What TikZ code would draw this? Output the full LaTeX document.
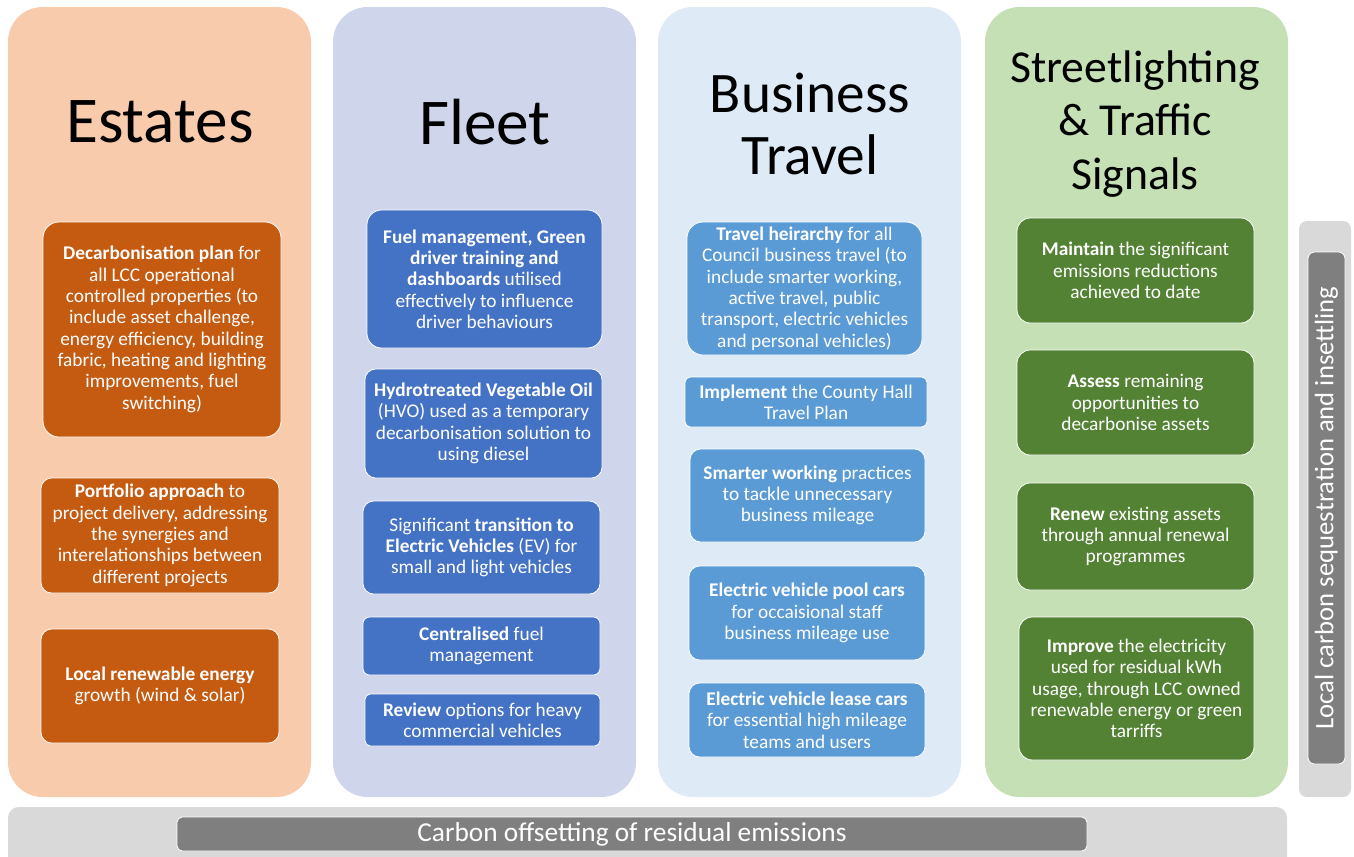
\documentclass[tikz,border=0pt]{standalone}
\usepackage{fontspec}
\setmainfont{Carlito}
\usetikzlibrary{fit}
\definecolor{estatebg}{HTML}{F8CBAD}
\definecolor{estatebox}{HTML}{C55A11}
\definecolor{fleetbg}{HTML}{CFD5EA}
\definecolor{fleetbox}{HTML}{4472C4}
\definecolor{travelbg}{HTML}{DEEBF7}
\definecolor{travelbox}{HTML}{5B9BD5}
\definecolor{streetbg}{HTML}{C5E0B4}
\definecolor{streetbox}{HTML}{548235}
\definecolor{barout}{HTML}{D9D9D9}
\definecolor{barin}{HTML}{7F7F7F}
\tikzset{
  col/.style={fill=#1, rounded corners=26pt, inner sep=0pt},
  item/.style={fill=#1, draw=white, line width=0.6pt, rounded corners=8pt, inner sep=0pt},
  itemtext/.style={text=white, align=center, inner sep=0pt, font=\fontsize{14.5}{16}\selectfont},
  hdr/.style={align=center, inner sep=0pt},
}
\begin{document}
\begin{tikzpicture}[x=0.75pt,y=-0.75pt]
  \useasboundingbox (0,0) rectangle (1354,857);
  \foreach \n/\a/\c in {estates/8/estatebg,fleet/333/fleetbg,travel/658/travelbg,street/985/streetbg}
    \node[col=\c, fit={(\a,7) (\a+303,797)}] (\n) {};

  \node[hdr, font=\fontsize{49}{58}\selectfont] (estatesT) at (160,122) {Estates};
  \node[hdr, font=\fontsize{49}{58}\selectfont] (fleetT) at (485,122) {Fleet};
  \node[hdr, font=\fontsize{43}{47}\selectfont] (travelT) at (810,124) {Business\\Travel};
  \node[hdr, font=\fontsize{34.3}{40}\selectfont] (streetT) at (1135,124) {Streetlighting\\\& Traffic\\Signals};

  \node[item=estatebox, rounded corners=12pt, fit={(43,222) (281,437)}] (e1) {};
  \node[item=estatebox, fit={(41,478) (279,593)}] (e2) {};
  \node[item=estatebox, fit={(41,629) (279,743)}] (e3) {};
  \node[itemtext] (e1t) at (e1.center) {\textbf{Decarbonisation plan} for\\all LCC operational\\controlled properties (to\\include asset challenge,\\energy efficiency, building\\fabric, heating and lighting\\improvements, fuel\\switching)};
  \node[itemtext] (e2t) at (e2.center) {\textbf{Portfolio approach} to\\project delivery, addressing\\the synergies and\\interelationships between\\different projects};
  \node[itemtext] (e3t) at (e3.center) {\textbf{Local renewable energy}\\growth (wind \& solar)};

  \node[item=fleetbox, rounded corners=11pt, fit={(367,210) (602,348)}] (f1) {};
  \node[item=fleetbox, fit={(365,369) (602,478)}] (f2) {};
  \node[item=fleetbox, fit={(363,501) (600,594)}] (f3) {};
  \node[item=fleetbox, rounded corners=5pt, fit={(363,617) (600,675)}] (f4) {};
  \node[item=fleetbox, rounded corners=4pt, fit={(365,694) (600,746)}] (f5) {};
  \node[itemtext] (f1t) at (f1.center) {\textbf{Fuel management, Green}\\\textbf{driver training and}\\\textbf{dashboards} utilised\\effectively to influence\\driver behaviours};
  \node[itemtext] (f2t) at (f2.center) {\textbf{Hydrotreated Vegetable Oil}\\(HVO) used as a temporary\\decarbonisation solution to\\using diesel};
  \node[itemtext] (f3t) at (f3.center) {Significant \textbf{transition to}\\\textbf{Electric Vehicles} (EV) for\\small and light vehicles};
  \node[itemtext] (f4t) at (f4.center) {\textbf{Centralised} fuel\\management};
  \node[itemtext] (f5t) at (f5.center) {\textbf{Review} options for heavy\\commercial vehicles};

  \node[item=travelbox, rounded corners=12pt, fit={(687,222) (922,355)}] (t1) {};
  \node[item=travelbox, rounded corners=4pt, fit={(685,377) (927,427)}] (t2) {};
  \node[item=travelbox, fit={(690,449) (925,542)}] (t3) {};
  \node[item=travelbox, fit={(689,566) (925,660)}] (t4) {};
  \node[item=travelbox, fit={(689,683) (925,757)}] (t5) {};
  \node[itemtext] (t1t) at (t1.center) {\textbf{Travel heirarchy} for all\\Council business travel (to\\include smarter working,\\active travel, public\\transport, electric vehicles\\and personal vehicles)};
  \node[itemtext] (t2t) at (t2.center) {\textbf{Implement} the County Hall\\Travel Plan};
  \node[itemtext] (t3t) at (t3.center) {\textbf{Smarter working} practices\\to tackle unnecessary\\business mileage};
  \node[itemtext] (t4t) at (t4.center) {\textbf{Electric vehicle pool cars}\\for occaisional staff\\business mileage use};
  \node[itemtext] (t5t) at (t5.center) {\textbf{Electric vehicle lease cars}\\for essential high mileage\\teams and users};

  \node[item=streetbox, rounded corners=10pt, fit={(1017,218) (1254,323)}] (s1) {};
  \node[item=streetbox, rounded corners=10pt, fit={(1017,350) (1254,455)}] (s2) {};
  \node[item=streetbox, rounded corners=10pt, fit={(1017,483) (1254,590)}] (s3) {};
  \node[item=streetbox, rounded corners=10pt, fit={(1019,617) (1254,760)}] (s4) {};
  \node[itemtext] (s1t) at (s1.center) {\textbf{Maintain} the significant\\emissions reductions\\achieved to date};
  \node[itemtext] (s2t) at (s2.center) {\textbf{Assess} remaining\\opportunities to\\decarbonise assets};
  \node[itemtext] (s3t) at (s3.center) {\textbf{Renew} existing assets\\through annual renewal\\programmes};
  \node[itemtext] (s4t) at (s4.center) {\textbf{Improve} the electricity\\used for residual kWh\\usage, through LCC owned\\renewable energy or green\\tarriffs};

  \node[fill=barout, rounded corners=6pt, inner sep=0pt, fit={(1299,221) (1351,797)}] (sidebar) {};
  \node[fill=barin, draw=white, line width=0.6pt, rounded corners=5pt, inner sep=0pt, fit={(1308,252) (1345,764)}] (sidebox) {};
  \node[rotate=90, text=white, inner sep=0pt, font=\fontsize{20}{22}\selectfont] (sidetext) at (sidebox.center) {Local carbon sequestration and insettling};

  \node[fill=barout, rounded corners=8pt, inner sep=0pt, fit={(8,807) (1287,880)}] (basebar) {};
  \node[fill=barin, draw=white, line width=0.6pt, rounded corners=4pt, inner sep=0pt, fit={(177,817) (1087,851)}] (basebox) {};
  \node[text=white, inner sep=0pt, font=\fontsize{20.5}{22}\selectfont] (basetext) at (basebox.center) {Carbon offsetting of residual emissions};
\end{tikzpicture}
\end{document}
